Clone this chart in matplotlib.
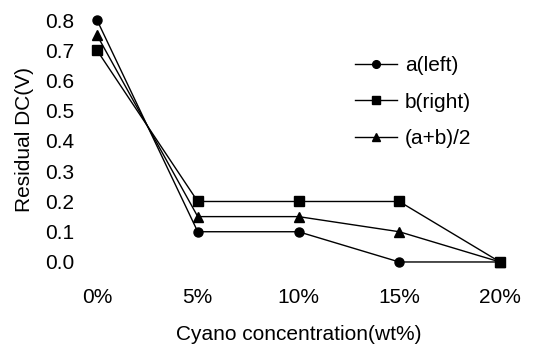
import matplotlib
matplotlib.use("Agg")
import matplotlib.pyplot as plt

categories = ["0%", "5%", "10%", "15%", "20%"]
a_left = [0.8, 0.1, 0.1, 0.0, 0.0]
b_right = [0.7, 0.2, 0.2, 0.2, 0.0]
avg = [0.75, 0.15, 0.15, 0.1, 0.0]
yticks = [0.0, 0.1, 0.2, 0.3, 0.4, 0.5, 0.6, 0.7, 0.8]

plt.rcParams['font.family'] = ['Liberation Sans', 'DejaVu Sans']
FS = 15
W, H = 533, 346
fig = plt.figure(figsize=(W/100, H/100), dpi=100)
left, right = 76.85, 520.15
top, bottom = 4.9, 277.1
ax = fig.add_axes([left/W, 1-bottom/H, (right-left)/W, (bottom-top)/H])
x = list(range(len(categories)))
ax.plot(x, a_left, color='black', lw=1, marker='o', ms=6.5, label='a(left)')
ax.plot(x, b_right, color='black', lw=1, marker='s', ms=6.5, label='b(right)')
ax.plot(x, avg, color='black', lw=1, marker='^', ms=7, label='(a+b)/2')
ax.set_xlim(-0.2, 4.2)
ax.set_ylim(-0.05, 0.85)
ax.set_xticks(x)
ax.set_xticklabels(categories)
ax.set_yticks(yticks)
ax.set_yticklabels([f"{v:.1f}" for v in yticks])
for s in ax.spines.values():
    s.set_visible(False)
ax.tick_params(axis='both', length=0, labelsize=FS)
ax.tick_params(axis='x', pad=8)
ax.tick_params(axis='y', pad=2)
fig.text(0.5*(97+500)/W, 1-335/H, "Cyano concentration(wt%)", ha='center', va='center', fontsize=FS)
fig.text(25/W, 1-140/H, "Residual DC(V)", ha='center', va='center', rotation=90, fontsize=FS)
leg = ax.legend(loc='upper left', bbox_to_anchor=(355/W, 1-56/H), bbox_transform=fig.transFigure,
                frameon=False, fontsize=FS, borderpad=0, borderaxespad=0, handlelength=2.0,
                handletextpad=0.4, labelspacing=0.84, markerscale=0.85)
fig.savefig("out.png", dpi=100)
